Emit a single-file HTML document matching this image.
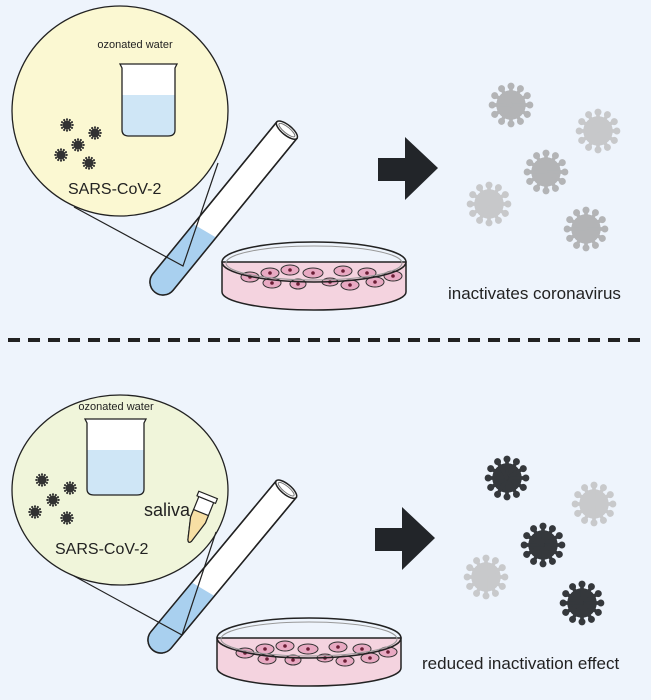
<!DOCTYPE html>
<html><head><meta charset="utf-8"><style>
html,body{margin:0;padding:0;background:#eef4fc;}
svg{display:block;}
text{font-family:"Liberation Sans","DejaVu Sans",sans-serif;fill:#222;}
</style></head><body>
<svg width="651" height="700" viewBox="0 0 651 700" xmlns="http://www.w3.org/2000/svg">
<defs>
<symbol id="v" viewBox="-25 -25 50 50" overflow="visible">
<g>
<circle r="15.5"/>
<g stroke-width="4" stroke-linecap="round">
<line x1="0" y1="0" x2="0" y2="-19" transform="rotate(0)"/>
<line x1="0" y1="0" x2="0" y2="-19" transform="rotate(30)"/>
<line x1="0" y1="0" x2="0" y2="-19" transform="rotate(60)"/>
<line x1="0" y1="0" x2="0" y2="-19" transform="rotate(90)"/>
<line x1="0" y1="0" x2="0" y2="-19" transform="rotate(120)"/>
<line x1="0" y1="0" x2="0" y2="-19" transform="rotate(150)"/>
<line x1="0" y1="0" x2="0" y2="-19" transform="rotate(180)"/>
<line x1="0" y1="0" x2="0" y2="-19" transform="rotate(210)"/>
<line x1="0" y1="0" x2="0" y2="-19" transform="rotate(240)"/>
<line x1="0" y1="0" x2="0" y2="-19" transform="rotate(270)"/>
<line x1="0" y1="0" x2="0" y2="-19" transform="rotate(300)"/>
<line x1="0" y1="0" x2="0" y2="-19" transform="rotate(330)"/>
</g>
<g stroke="none">
<circle cy="-20.5" r="3.8" transform="rotate(0)"/><circle cy="-20.5" r="3.8" transform="rotate(30)"/>
<circle cy="-20.5" r="3.8" transform="rotate(60)"/><circle cy="-20.5" r="3.8" transform="rotate(90)"/>
<circle cy="-20.5" r="3.8" transform="rotate(120)"/><circle cy="-20.5" r="3.8" transform="rotate(150)"/>
<circle cy="-20.5" r="3.8" transform="rotate(180)"/><circle cy="-20.5" r="3.8" transform="rotate(210)"/>
<circle cy="-20.5" r="3.8" transform="rotate(240)"/><circle cy="-20.5" r="3.8" transform="rotate(270)"/>
<circle cy="-20.5" r="3.8" transform="rotate(300)"/><circle cy="-20.5" r="3.8" transform="rotate(330)"/>
</g>
</g>
</symbol>
<g id="tube">
<path d="M0,-13 L196,-13 L196,13 L0,13 A13,13 0 0 1 0,-13 Z" fill="#fff" stroke="#222" stroke-width="1.5"/>
<path d="M0,-13 L64,-13 L68,13 L0,13 A13,13 0 0 1 0,-13 Z" fill="#a9d0ef"/>
<path d="M0,-13 L196,-13 L196,13 L0,13 A13,13 0 0 1 0,-13 Z" fill="none" stroke="#222" stroke-width="1.5"/>
<ellipse cx="196" cy="0" rx="5" ry="13" fill="#fff" stroke="#222" stroke-width="1.5"/>
<ellipse cx="196" cy="0" rx="3" ry="10" fill="none" stroke="#777" stroke-width="1"/>
</g>
<g id="cells" fill="#e8a9c2" stroke="#333" stroke-width="1">
<ellipse cx="250" cy="277" rx="9" ry="5"/><ellipse cx="270" cy="273" rx="9" ry="5"/>
<ellipse cx="290" cy="270" rx="9" ry="5"/><ellipse cx="313" cy="273" rx="10" ry="5"/>
<ellipse cx="343" cy="271" rx="9" ry="5"/><ellipse cx="367" cy="273" rx="9" ry="5"/>
<ellipse cx="393" cy="276" rx="9" ry="5"/><ellipse cx="272" cy="283" rx="9" ry="5"/>
<ellipse cx="298" cy="284" rx="8" ry="5"/><ellipse cx="330" cy="282" rx="8" ry="4"/>
<ellipse cx="350" cy="285" rx="9" ry="5"/><ellipse cx="375" cy="282" rx="9" ry="5"/>
<g fill="#6b1d35" stroke="none">
<circle cx="250" cy="277" r="1.8"/><circle cx="270" cy="273" r="1.8"/><circle cx="290" cy="270" r="1.8"/>
<circle cx="313" cy="273" r="1.8"/><circle cx="343" cy="271" r="1.8"/><circle cx="367" cy="273" r="1.8"/>
<circle cx="393" cy="276" r="1.8"/><circle cx="272" cy="283" r="1.8"/><circle cx="298" cy="284" r="1.8"/>
<circle cx="330" cy="282" r="1.8"/><circle cx="350" cy="285" r="1.8"/><circle cx="375" cy="282" r="1.8"/>
</g>
</g>
<g id="dish">
<path d="M222,262 L222,292 A92,18 0 0 0 406,292 L406,262 Z" fill="#f4d3df" stroke="#222" stroke-width="1.5"/>
<use href="#cells"/>
<ellipse cx="314" cy="262" rx="92" ry="20" fill="none" stroke="#222" stroke-width="1.5"/>
<ellipse cx="314" cy="263" rx="88" ry="17" fill="none" stroke="#999" stroke-width="1"/>
</g>
</defs>

<rect width="651" height="700" fill="#eef4fc"/>

<!-- TOP -->
<ellipse cx="120" cy="111" rx="108" ry="105" fill="#fbf8d2" stroke="#222" stroke-width="1.3"/>
<text x="135" y="48" font-size="11" text-anchor="middle">ozonated water</text>
<path d="M120,64 L177,64 L175,68 L175,130 Q175,136 168,136 L129,136 Q122,136 122,130 L122,68 Z" fill="#fff"/>
<path d="M122,95 L175,95 L175,130 Q175,136 168,136 L129,136 Q122,136 122,130 Z" fill="#cfe6f6"/>
<path d="M120,64 L177,64 L175,68 L175,130 Q175,136 168,136 L129,136 Q122,136 122,130 L122,68 Z" fill="none" stroke="#222" stroke-width="1.3"/>
<g fill="#333" stroke="#333">
<use href="#v" x="60" y="118" width="14" height="14"/><use href="#v" x="88" y="126" width="14" height="14"/>
<use href="#v" x="71" y="138" width="14" height="14"/><use href="#v" x="54" y="148" width="14" height="14"/>
<use href="#v" x="82" y="156" width="14" height="14"/>
</g>
<text x="68" y="194" font-size="16">SARS-CoV-2</text>
<use href="#tube" transform="translate(163,282) rotate(-50.8)"/>
<path d="M74,207 L183,266 L218,163" fill="none" stroke="#222" stroke-width="1.2"/>
<use href="#dish"/>
<path d="M378,158 L405,158 L405,137 L438,168 L405,200 L405,181 L378,181 Z" fill="#222529"/>
<g fill="#b3b4b6" stroke="#b3b4b6">
<use href="#v" x="488" y="82" width="46" height="46"/>
<use href="#v" x="523" y="149" width="46" height="46"/>
<use href="#v" x="563" y="206" width="46" height="46"/>
</g>
<g fill="#c7c8ca" stroke="#c7c8ca">
<use href="#v" x="575" y="108" width="46" height="46"/>
<use href="#v" x="466" y="181" width="46" height="46"/>
</g>
<text x="448" y="299" font-size="17">inactivates coronavirus</text>

<line x1="8" y1="340" x2="645" y2="340" stroke="#222" stroke-width="4" stroke-dasharray="12,8"/>

<!-- BOTTOM -->
<ellipse cx="120" cy="490" rx="108" ry="95" fill="#f0f5da" stroke="#222" stroke-width="1.3"/>
<text x="116" y="410" font-size="11" text-anchor="middle">ozonated water</text>
<path d="M85,419 L146,419 L144,423 L144,489 Q144,495 137,495 L94,495 Q87,495 87,489 L87,423 Z" fill="#fff"/>
<path d="M87,450 L144,450 L144,489 Q144,495 137,495 L94,495 Q87,495 87,489 Z" fill="#cfe6f6"/>
<path d="M85,419 L146,419 L144,423 L144,489 Q144,495 137,495 L94,495 Q87,495 87,489 L87,423 Z" fill="none" stroke="#222" stroke-width="1.3"/>
<g fill="#333" stroke="#333">
<use href="#v" x="35" y="473" width="14" height="14"/><use href="#v" x="63" y="481" width="14" height="14"/>
<use href="#v" x="46" y="493" width="14" height="14"/><use href="#v" x="28" y="505" width="14" height="14"/>
<use href="#v" x="60" y="511" width="14" height="14"/>
</g>
<text x="55" y="554" font-size="16">SARS-CoV-2</text>
<text x="144" y="516" font-size="18">saliva</text>
<g transform="translate(198,520) rotate(22)">
<path d="M-8,-22 L8,-22 L8,0 L2,22 Q0,26 -2,22 L-8,0 Z" fill="#fff" stroke="#222" stroke-width="1.2"/>
<path d="M-8,-8 L8,-8 L8,0 L2,22 Q0,26 -2,22 L-8,0 Z" fill="#f7dfa4" stroke="#222" stroke-width="1.2"/>
<rect x="-10" y="-27" width="20" height="5" fill="#fff" stroke="#222" stroke-width="1.2"/>
</g>
<use href="#tube" transform="translate(161,640) rotate(-50.3)"/>
<path d="M74,576 L182,635 L216,532" fill="none" stroke="#222" stroke-width="1.2"/>
<use href="#dish" transform="translate(-5,376)"/>
<path d="M375,528 L402,528 L402,507 L435,538 L402,570 L402,551 L375,551 Z" fill="#222529"/>
<g fill="#35383c" stroke="#35383c">
<use href="#v" x="484" y="455" width="46" height="46"/>
<use href="#v" x="520" y="522" width="46" height="46"/>
<use href="#v" x="559" y="580" width="46" height="46"/>
</g>
<g fill="#c8c9cb" stroke="#c8c9cb">
<use href="#v" x="571" y="481" width="46" height="46"/>
<use href="#v" x="463" y="554" width="46" height="46"/>
</g>
<text x="422" y="669" font-size="17">reduced inactivation effect</text>
</svg>
</body></html>
